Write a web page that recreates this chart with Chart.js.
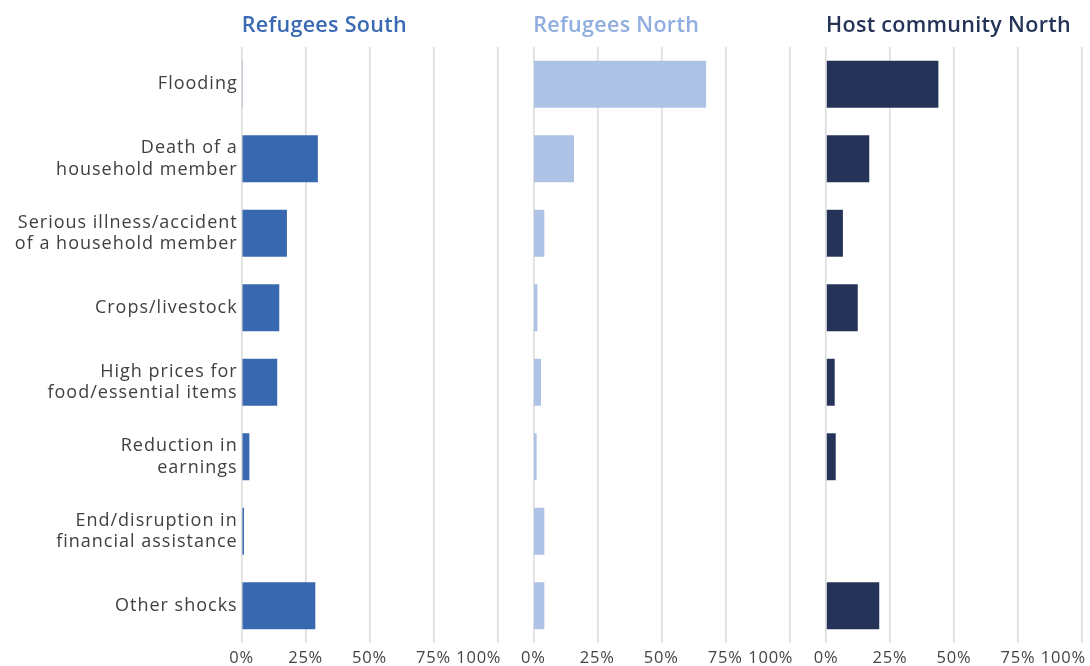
<!DOCTYPE html>
<html>
<head>
<meta charset="utf-8">
<script src="https://cdn.jsdelivr.net/npm/chart.js@4.4.1/dist/chart.umd.min.js"></script>
<style>
  html, body { margin: 0; padding: 0; background: #fff; }
  #wrap { position: relative; width: 1090px; height: 666px; overflow: hidden; }
  .panel { position: absolute; top: 0; }
</style>
</head>
<body>
<div id="wrap">
  <div class="panel" style="left:0px"><canvas id="c0" width="512" height="666"></canvas></div>
  <div class="panel" style="left:513px"><canvas id="c1" width="290" height="666"></canvas></div>
  <div class="panel" style="left:806px"><canvas id="c2" width="284" height="666"></canvas></div>
</div>
<script>
    'use strict';

    // data (percent of households)
    var categories = [
        'Flooding',
        ['Death of a', 'household member'],
        ['Serious illness/accident', 'of a household member'],
        'Crops/livestock',
        ['High prices for', 'food/essential items'],
        ['Reduction in', 'earnings'],
        ['End/disruption in', 'financial assistance'],
        'Other shocks'
    ];
    var panelTitles   = ['Refugees South', 'Refugees North', 'Host community North'];
    var refugeesSouth = [0.4, 29.8, 17.7, 14.7, 13.9, 3.0, 0.9, 28.8];
    var refugeesNorth = [67.5, 15.9, 4.3, 1.6, 3.0, 1.3, 4.3, 4.3];
    var hostNorth     = [43.9, 16.9, 6.6, 12.4, 3.4, 3.8, 0, 20.8];
    var tickValues    = [0, 25, 50, 75, 100];

    var panelSeries = [refugeesSouth, refugeesNorth, hostNorth];
    var barColors   = ['#3868b0', '#aec2e6', '#243357'];
    var titleColors = ['#3a6ab3', '#8fadde', '#243357'];
    var fontFamily  = '"Open Sans", Lato, sans-serif';

    // the reference face runs wider than Open Sans, so open up the tracking
    var tracking = {
        id: 'tracking',
        beforeUpdate: function(chart) { chart.ctx.letterSpacing = '1px'; },
        beforeDraw: function(chart) { chart.ctx.letterSpacing = '1px'; }
    };

    var panelTitle = {
        id: 'panelTitle',
        afterDraw: function(chart) {
            var ctx = chart.ctx;
            ctx.save();
            ctx.letterSpacing = '0.3px';
            ctx.font = '600 21.5px ' + fontFamily;
            ctx.fillStyle = chart.options.plugins.panelTitle.color;
            ctx.textAlign = 'left';
            ctx.textBaseline = 'alphabetic';
            ctx.fillText(chart.options.plugins.panelTitle.text, chart.chartArea.left, 32);
            ctx.restore();
        }
    };

    // x tick labels drawn through the x scale, last one pulled inside
    var xTickLabels = {
        id: 'xTickLabels',
        afterDraw: function(chart) {
            var ctx = chart.ctx, scale = chart.scales.x;
            ctx.save();
            ctx.letterSpacing = '0.8px';
            ctx.font = '16.5px ' + fontFamily;
            ctx.fillStyle = '#444';
            ctx.textBaseline = 'middle';
            tickValues.forEach(function(v, i) {
                var px = scale.getPixelForValue(v);
                if (i === tickValues.length - 1) {
                    ctx.textAlign = 'right';
                    ctx.fillText(v + '%', px + 4, 658);
                } else {
                    ctx.textAlign = 'center';
                    ctx.fillText(v + '%', px, 658);
                }
            });
            ctx.restore();
        }
    };

    function makePanel(idx) {
        var showLabels = idx === 0;
        var padding = [
            { left: 0, right: 14.7, top: 47, bottom: 0 },
            { left: 20.3, right: 13.7, top: 47, bottom: 0 },
            { left: 20, right: 8, top: 47, bottom: 0 }
        ][idx];

        return new Chart(document.getElementById('c' + idx), {
            type: 'bar',
            data: {
                labels: categories,
                datasets: [{
                    data: panelSeries[idx],
                    backgroundColor: barColors[idx],
                    borderWidth: 0,
                    categoryPercentage: 1,
                    barPercentage: 0.63
                }]
            },
            options: {
                indexAxis: 'y',
                responsive: false,
                animation: false,
                layout: { padding: padding },
                plugins: {
                    legend: { display: false },
                    tooltip: { enabled: false },
                    panelTitle: { text: panelTitles[idx], color: titleColors[idx] }
                },
                scales: {
                    x: {
                        min: 0,
                        max: 100,
                        afterBuildTicks: function(scale) {
                            scale.ticks = tickValues.map(function(v) { return { value: v }; });
                        },
                        afterFit: function(scale) { scale.height = 23; },
                        ticks: { display: false },
                        border: { display: false },
                        grid: { color: '#dcdcdc', lineWidth: 1.6, drawTicks: false }
                    },
                    y: {
                        display: showLabels,
                        afterFit: function(scale) { if (showLabels) { scale.width = 241.7; } },
                        ticks: {
                            color: '#404040',
                            padding: 4,
                            font: { family: fontFamily, size: 18, lineHeight: 1.2 }
                        },
                        border: { display: false },
                        grid: { display: false, drawTicks: false }
                    }
                }
            },
            plugins: [tracking, panelTitle, xTickLabels]
        });
    }

    makePanel(0);
    makePanel(1);
    makePanel(2);
</script>
</body>
</html>
